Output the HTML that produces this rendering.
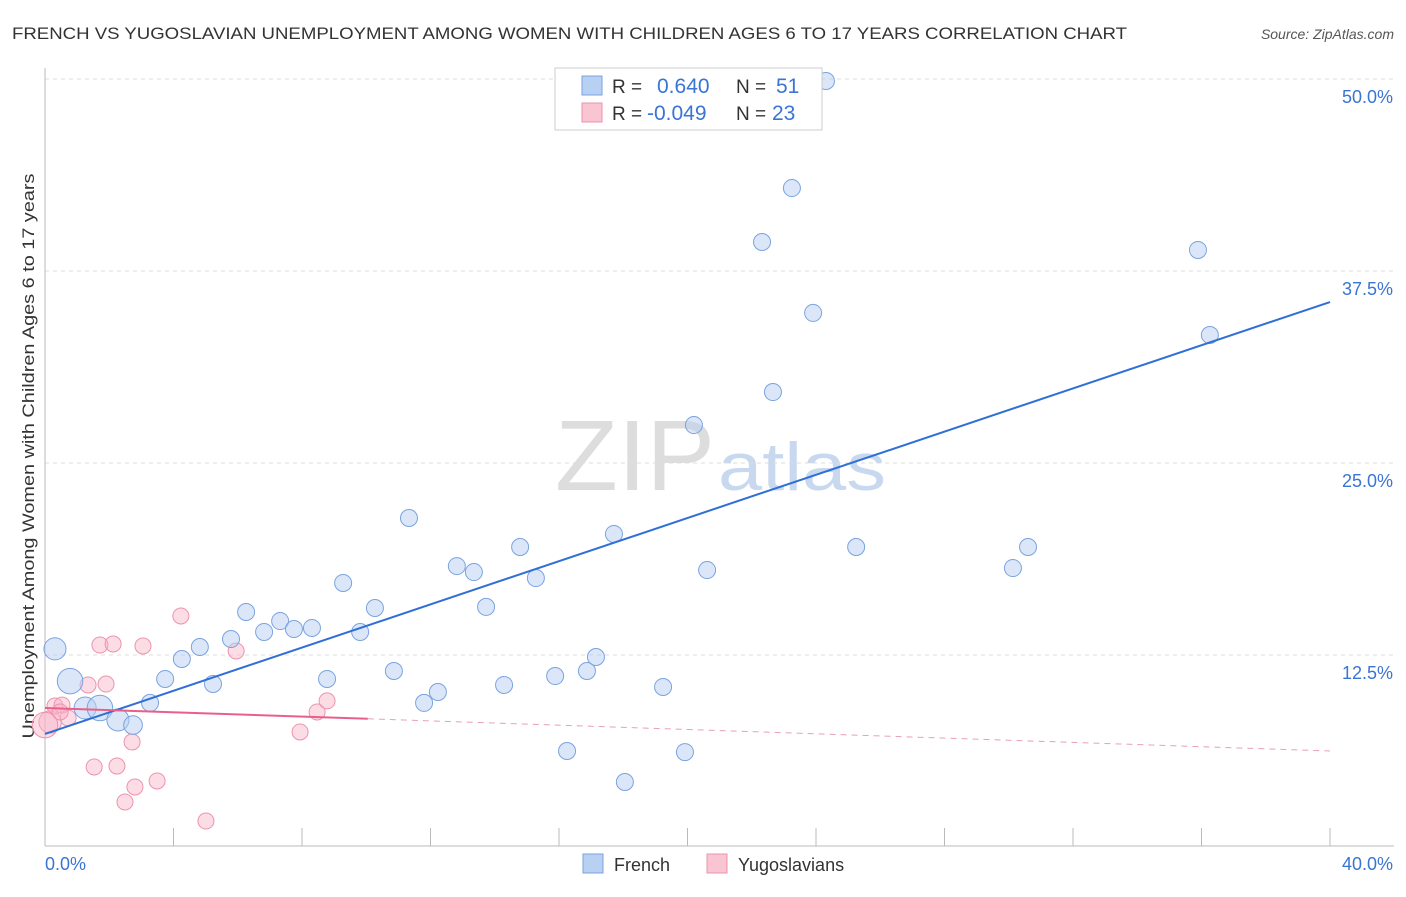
<!DOCTYPE html>
<html><head><meta charset="utf-8"><style>
body{margin:0;background:#fff;font-family:"Liberation Sans",sans-serif;}
svg text{font-family:"Liberation Sans",sans-serif;}
</style></head><body>
<svg id="c" width="1406" height="892">
<text x="12" y="39" font-size="17" fill="#333" textLength="1115" lengthAdjust="spacingAndGlyphs">FRENCH VS YUGOSLAVIAN UNEMPLOYMENT AMONG WOMEN WITH CHILDREN AGES 6 TO 17 YEARS CORRELATION CHART</text>
<text x="1394" y="39" font-size="14" fill="#555" text-anchor="end" font-style="italic">Source: ZipAtlas.com</text>
<text x="555" y="490" font-size="100" fill="#ddd" font-family="Liberation Serif" textLength="160" lengthAdjust="spacingAndGlyphs">ZIP</text>
<text x="718" y="490" font-size="68" fill="#c8d8ef" textLength="168" lengthAdjust="spacingAndGlyphs">atlas</text>
<text transform="translate(34,456) rotate(-90)" font-size="17" fill="#333" text-anchor="middle" textLength="565" lengthAdjust="spacingAndGlyphs">Unemployment Among Women with Children Ages 6 to 17 years</text>
<g id="grid"></g><g id="marks"></g>
<g>
<rect x="555" y="68" width="267" height="62" fill="#fff" stroke="#ccc"/>
<rect x="582" y="76" width="20" height="19" fill="#b8d0f2" stroke="#7aa3e0"/>
<rect x="582" y="103" width="20" height="19" fill="#f9c5d3" stroke="#ec93ae"/>
<text x="612" y="93" font-size="19" fill="#333">R =</text><text x="657" y="93" font-size="21" fill="#3a74d4">0.640</text>
<text x="736" y="93" font-size="19" fill="#333">N =</text><text x="776" y="93" font-size="21" fill="#3a74d4">51</text>
<text x="612" y="120" font-size="19" fill="#333">R =</text><text x="647" y="120" font-size="21" fill="#3a74d4">-0.049</text>
<text x="736" y="120" font-size="19" fill="#333">N =</text><text x="772" y="120" font-size="21" fill="#3a74d4">23</text>
</g>
<g>
<rect x="583" y="854" width="20" height="19" fill="#b8d0f2" stroke="#7aa3e0"/>
<text x="614" y="871" font-size="18" fill="#333">French</text>
<rect x="707" y="854" width="20" height="19" fill="#f9c5d3" stroke="#ec93ae"/>
<text x="738" y="871" font-size="18" fill="#333">Yugoslavians</text>
</g>
</svg>
<script>
const frX=[0.31,0.78,1.25,1.71,2.27,2.74,3.27,3.74,4.26,4.82,5.23,5.79,6.26,6.82,7.32,7.75,8.31,8.78,9.28,9.81,10.27,10.86,11.33,11.80,12.23,12.82,13.35,13.73,14.29,14.79,15.28,15.88,16.25,16.87,17.15,17.71,18.05,19.24,19.92,20.20,20.61,22.32,22.66,23.25,23.91,24.31,25.25,30.13,30.60,35.89,36.26];
const frY=[12.9,10.8,9.05,9.05,8.27,7.94,9.38,10.94,12.24,13.02,10.61,13.54,15.30,14.0,14.71,14.19,14.26,10.94,17.19,14.0,15.56,11.46,21.42,9.38,10.09,18.29,17.90,15.63,10.55,19.53,17.51,11.13,6.25,11.46,12.37,20.38,4.23,10.42,6.18,27.47,18.03,39.39,29.62,42.90,34.77,49.87,19.53,18.16,19.53,38.87,33.33];
const frW=[1.3,1.5,1.3,1.5,1.3,1.1];
const yuX=[0.16,0.31,0.53,0.72,1.34,1.53,1.71,1.90,2.12,2.24,2.49,2.71,2.80,3.05,3.49,4.23,5.01,5.95,7.94,8.47,8.78,0.47,0];
const yuY=[8.14,9.18,9.24,8.40,10.55,5.21,13.15,10.61,13.22,5.27,2.93,6.84,3.91,13.09,4.30,15.04,1.69,12.76,7.49,8.79,9.51,8.79,7.94];
const yuW=[1.4,1,1,1,1,1,1,1,1,1,1,1,1,1,1,1,1,1,1,1,1,1,1.6];
const frLine=[7.36,0.703];
const yuLine=[9.05,-0.07];
const yTicks=[12.5,25,37.5,50];
const xTickLabels=["0.0%","40.0%"];
const NS="http://www.w3.org/2000/svg";
const X=v=>45+v*32.125, Y=v=>847-v*15.36;
function mk(t,a,p){const e=document.createElementNS(NS,t);for(const k in a)e.setAttribute(k,a[k]);p.appendChild(e);return e;}
const g=document.getElementById('grid'),m=document.getElementById('marks');
yTicks.forEach(t=>{
 const l=mk('line',{x1:45,x2:1394,y1:Y(t),y2:Y(t),stroke:'#ddd','stroke-dasharray':'4,4'},g);
 
 
 const tx=mk('text',{x:1393,y:Y(t)+24,'font-size':18,fill:'#3a74d4','text-anchor':'end'},g);
 tx.textContent=t.toFixed(1)+'%';
 
 
});
mk('line',{x1:45,x2:45,y1:68,y2:846,stroke:'#bbb'},g);
mk('line',{x1:45,x2:1394,y1:846,y2:846,stroke:'#bbb'},g);
for(let i=1;i<=10;i++){mk('line',{x1:45+i*128.5,x2:45+i*128.5,y1:828,y2:846,stroke:'#bbb'},g);}
xTickLabels.forEach((s,i)=>{
 const tx=mk('text',{x:i?1393:45,y:870,'font-size':18,fill:'#3a74d4','text-anchor':i?'end':'start'},g);
 tx.textContent=s;
 
 
});
yuX.forEach((x,i)=>{
 const c=mk('circle',{cx:X(x),cy:Y(yuY[i]),r:8*(yuW[i]||1),fill:'rgba(249,180,200,0.45)',stroke:'#ec93ae','stroke-width':1},m);
 
 
});
frX.forEach((x,i)=>{
 const c=mk('circle',{cx:X(x),cy:Y(frY[i]),r:8.5*(frW[i]||1),fill:'rgba(184,208,242,0.5)',stroke:'#7aa3e0','stroke-width':1},m);
 
 
});
const fl=mk('line',{x1:X(0),y1:Y(frLine[0]),x2:X(40),y2:Y(frLine[0]+40*frLine[1]),stroke:'#2f6fd6','stroke-width':2},m);


const yl=mk('line',{x1:X(0),y1:Y(yuLine[0]),x2:X(10.05),y2:Y(yuLine[0]+10.05*yuLine[1]),stroke:'#e8608a','stroke-width':2},m);


const yd=mk('line',{x1:X(10.05),y1:Y(yuLine[0]+10.05*yuLine[1]),x2:X(40),y2:Y(yuLine[0]+40*yuLine[1]),stroke:'#e8a0b6','stroke-width':1,'stroke-dasharray':'6,5'},m);


</script>
</body></html>
